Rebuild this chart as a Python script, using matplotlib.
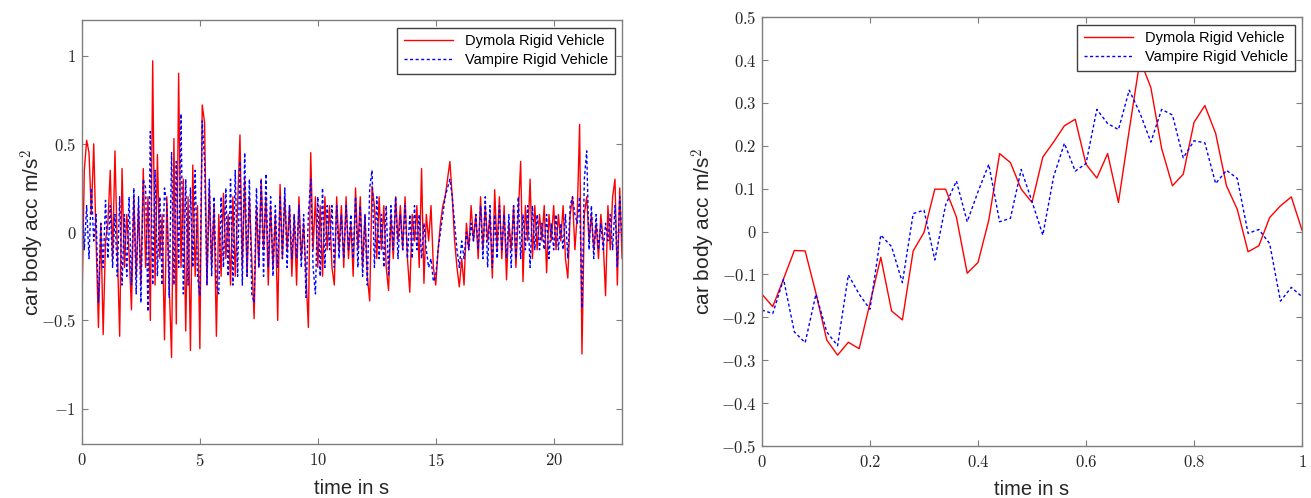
import numpy as np
import matplotlib.pyplot as plt
from matplotlib.ticker import FuncFormatter

dymola_long = [
    -0.43, 0.35, 0.52, 0.45, 0.10, 0.50, -0.05, -0.54, 0.05, -0.58,
    -0.05, 0.05, 0.35, -0.15, 0.46, -0.10, -0.59, 0.36, -0.20, 0.10,
    -0.12, -0.44, 0.20, -0.25, 0.15, -0.30, 0.36, -0.20, 0.20, -0.50,
    0.97, -0.30, 0.44, -0.15, 0.10, -0.61, 0.20, -0.30, -0.71, 0.53,
    -0.52, 0.90, -0.20, 0.30, -0.56, 0.20, -0.67, 0.38, -0.25, 0.15,
    -0.66, 0.72, 0.62, -0.30, 0.25, -0.20, 0.15, -0.59, 0.10, -0.25,
    0.22, -0.15, 0.10, -0.30, 0.20, -0.25, 0.15, 0.55, -0.20, 0.30,
    -0.25, 0.20, -0.15, -0.49, 0.15, -0.20, 0.30, -0.10, 0.20, -0.30,
    0.15, -0.20, 0.10, -0.50, 0.27, -0.15, 0.20, -0.10, 0.15, -0.25,
    0.10, -0.30, 0.20, -0.15, 0.05, -0.25, -0.54, 0.45, -0.10, 0.20,
    -0.20, 0.15, -0.25, 0.20, -0.10, 0.15, -0.20, -0.30, 0.20, -0.10,
    0.15, -0.20, 0.20, -0.15, 0.05, -0.25, 0.25, -0.10, 0.20, -0.20,
    0.10, -0.25, -0.39, 0.26, 0.15, -0.15, 0.20, -0.10, 0.15, -0.20,
    -0.33, 0.10, -0.15, 0.20, -0.05, 0.15, -0.10, 0.20, -0.15, -0.34,
    0.10, -0.05, 0.15, -0.20, 0.36, -0.29, 0.10, -0.05, 0.15, -0.20,
    -0.30, -0.10, 0.05, 0.15, 0.20, 0.30, 0.40, 0.20, -0.05, -0.20,
    -0.31, -0.15, -0.30, 0.05, -0.10, 0.15, -0.05, 0.10, -0.15, 0.20,
    -0.10, 0.15, -0.05, 0.10, -0.26, 0.24, -0.10, 0.20, -0.15, 0.15,
    -0.27, 0.05, -0.10, 0.15, -0.20, 0.10, 0.40, -0.28, 0.15, -0.05,
    0.30, -0.15, 0.15, -0.10, 0.10, -0.05, 0.15, -0.23, 0.10, -0.05,
    0.15, -0.10, 0.10, -0.05, 0.15, -0.15, -0.26, 0.10, 0.20, -0.10,
    0.10, 0.61, -0.69, 0.10, 0.20, -0.05, 0.10, -0.10, 0.05, -0.15,
    0.10, -0.05, -0.36, 0.15, -0.10, 0.20, 0.30, -0.30, 0.25, -0.15,
]
vampire_long = [
    0.20, -0.10, 0.15, -0.15, 0.25, -0.05, 0.10, -0.40, 0.05, -0.20,
    0.18, -0.15, 0.15, -0.20, 0.10, -0.25, 0.20, -0.30, 0.10, -0.25,
    0.20, -0.30, 0.25, -0.35, 0.20, -0.40, 0.30, 0.25, -0.45, 0.57,
    -0.30, 0.35, -0.25, 0.20, -0.30, 0.25, 0.15, -0.37, 0.45, -0.30,
    0.40, -0.20, 0.67, -0.35, 0.30, -0.30, 0.25, -0.20, 0.35, -0.25,
    -0.36, 0.63, 0.40, -0.30, 0.30, -0.25, 0.20, -0.30, -0.35, 0.20,
    -0.20, 0.25, -0.25, 0.30, -0.30, 0.35, -0.25, 0.40, -0.30, 0.45,
    -0.25, 0.30, -0.35, -0.40, 0.25, -0.20, 0.30, -0.25, 0.33, -0.20,
    0.20, -0.25, 0.15, -0.20, 0.20, -0.15, 0.25, -0.20, 0.15, -0.15,
    0.10, -0.15, 0.15, -0.20, 0.10, -0.37, 0.10, 0.30, -0.20, -0.35,
    0.20, -0.25, 0.25, -0.20, 0.15, -0.10, 0.15, -0.20, 0.15, -0.15,
    0.10, -0.15, 0.15, -0.10, 0.10, -0.15, 0.20, -0.20, 0.15, -0.25,
    0.10, -0.30, 0.25, 0.35, -0.20, 0.20, -0.15, 0.10, -0.20, 0.15,
    -0.25, 0.15, -0.10, 0.20, -0.15, 0.10, -0.10, 0.15, -0.15, 0.10,
    -0.15, 0.15, -0.10, 0.10, -0.15, 0.05, -0.10, -0.20, -0.15, -0.28,
    -0.25, -0.10, 0.00, 0.10, 0.20, 0.25, 0.30, 0.20, 0.05, -0.10,
    -0.20, -0.05, -0.15, 0.00, -0.10, 0.05, -0.05, 0.10, -0.10, 0.15,
    -0.15, 0.20, -0.20, 0.15, -0.20, 0.10, -0.15, 0.15, -0.10, 0.10,
    -0.15, 0.10, -0.20, 0.15, -0.15, 0.20, -0.15, 0.10, -0.10, 0.15,
    -0.20, 0.15, -0.10, 0.10, -0.10, 0.05, -0.10, 0.10, -0.15, 0.05,
    -0.10, 0.10, -0.10, 0.05, -0.10, 0.10, -0.15, 0.15, 0.20, 0.10,
    0.05, 0.20, -0.43, 0.30, 0.46, -0.10, 0.15, -0.15, 0.10, -0.10,
    0.05, -0.10, 0.05, -0.05, 0.10, -0.10, 0.15, -0.20, 0.20, -0.05,
]
t_long = np.arange(len(dymola_long)) * 0.1

# ---- first second, sampled every 0.02 s
dymola_short = [
    -0.146, -0.175, -0.11, -0.044, -0.045, -0.144, -0.253, -0.288, -0.258, -0.273,
    -0.167, -0.060, -0.185, -0.206, -0.045, -0.002, 0.099, 0.099, 0.034, -0.097,
    -0.072, 0.027, 0.182, 0.161, 0.099, 0.068, 0.174, 0.209, 0.247, 0.262,
    0.157, 0.125, 0.182, 0.068, 0.237, 0.401, 0.336, 0.194, 0.107, 0.134,
    0.255, 0.294, 0.229, 0.107, 0.052, -0.047, -0.033, 0.033, 0.060, 0.081,
    0.003,
]
vampire_short = [
    -0.183, -0.191, -0.111, -0.234, -0.259, -0.146, -0.234, -0.266, -0.101, -0.146,
    -0.181, -0.008, -0.035, -0.119, 0.042, 0.050, -0.066, 0.062, 0.118, 0.023,
    0.093, 0.157, 0.023, 0.031, 0.145, 0.070, -0.008, 0.128, 0.206, 0.141,
    0.159, 0.285, 0.252, 0.238, 0.330, 0.276, 0.209, 0.285, 0.272, 0.172,
    0.212, 0.207, 0.112, 0.143, 0.124, -0.004, 0.005, -0.028, -0.162, -0.130,
    -0.152,
]
t_short = np.arange(len(dymola_short)) * 0.02

plt.rcParams['font.family'] = ['Liberation Sans', 'DejaVu Sans']
plt.rcParams['mathtext.fontset'] = 'cm'

tex_fmt = FuncFormatter(lambda v, p: '$%g$' % round(v, 6))


def style_axes(ax, ylabel_pad):
    for s in ax.spines.values():
        s.set_color('#7f7f7f')
        s.set_linewidth(1.0)
    ax.tick_params(direction='in', top=True, right=True, length=4,
                   color='#7f7f7f', labelsize=12, labelcolor='#262626')
    ax.tick_params(axis='x', pad=6)
    ax.tick_params(axis='y', pad=4)
    ax.xaxis.set_major_formatter(tex_fmt)
    ax.yaxis.set_major_formatter(tex_fmt)
    ax.set_xlabel('time in s', fontsize=14.5, color='#262626', labelpad=7)
    ax.set_ylabel(r'car body acc m/s$^{\mathsf{2}}$', fontsize=15, color='#262626',
                  labelpad=ylabel_pad)
    ax.legend(loc='upper right', fontsize=10.5, fancybox=False, framealpha=1,
              edgecolor='#404040', handlelength=3.4, borderpad=0.45,
              labelspacing=0.35)


fig = plt.figure(figsize=(13.11, 4.98), dpi=100)
ax1 = fig.add_axes([0.0625, 0.1084, 0.412, 0.851])
ax2 = fig.add_axes([0.5812, 0.1044, 0.412, 0.861])

ax1.plot(t_long, dymola_long, color='#ff0000', lw=1.0, label='Dymola Rigid Vehicle')
ax1.plot(t_long, vampire_long, color='#0000ff', lw=1.0, ls=(0, (2.2, 1.8)),
         label='Vampire Rigid Vehicle')
ax1.set_xlim(0, 22.9)
ax1.set_ylim(-1.2, 1.2)
ax1.set_xticks([0, 5, 10, 15, 20])
ax1.set_yticks([-1, -0.5, 0, 0.5, 1])
style_axes(ax1, -4)

ax2.plot(t_short, dymola_short, color='#ff0000', lw=1.0, label='Dymola Rigid Vehicle')
ax2.plot(t_short, vampire_short, color='#0000ff', lw=1.0, ls=(0, (2.2, 1.8)),
         label='Vampire Rigid Vehicle')
ax2.set_xlim(0, 1)
ax2.set_ylim(-0.5, 0.5)
ax2.set_xticks([0, 0.2, 0.4, 0.6, 0.8, 1])
ax2.set_yticks(np.arange(-5, 6) / 10)
style_axes(ax2, 2)

fig.savefig('out.png', dpi=100)
